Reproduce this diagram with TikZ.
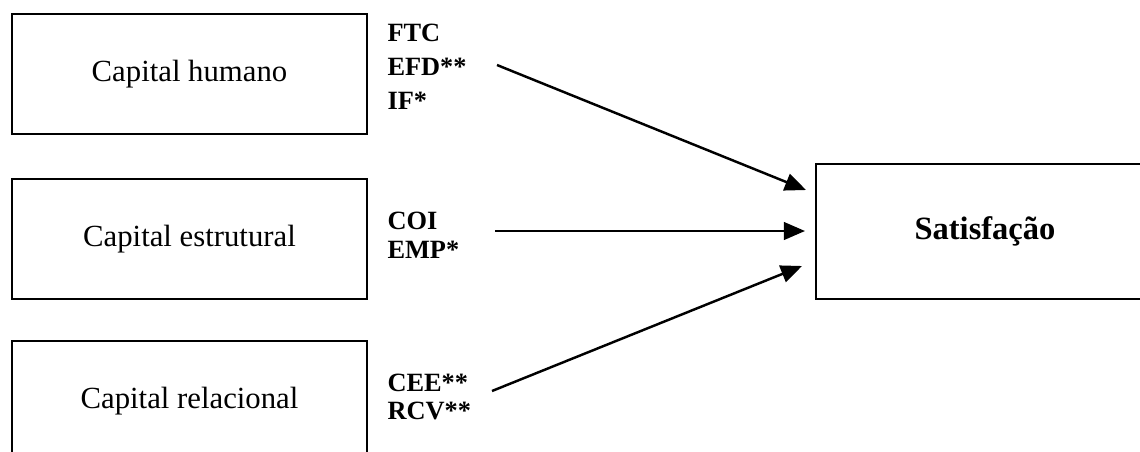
\documentclass[tikz,border=0pt]{standalone}
\usepackage{fontspec}
\setmainfont{Liberation Serif}
\usetikzlibrary{arrows.meta,positioning}

\begin{document}
\begin{tikzpicture}[x=0.02cm,y=-0.02cm,>={Triangle[length=12pt,width=10pt]},
                    semithick]
\tikzstyle{capbox}=[draw,line width=0.9pt,minimum width=7.1cm,minimum height=2.4cm,
                    inner sep=0pt,font=\fontsize{17.5}{20}\selectfont]
\tikzstyle{lab}=[anchor=west,align=left,inner sep=0pt,font=\bfseries]

        \clip (0,0) rectangle (1140,451);

        \node[capbox]                    (hum) at (189.5,74)  {Capital humano};
        \node[capbox]                    (est) at (189.5,239) {Capital estrutural};
        \node[capbox]                    (rel) at (189.5,401) {Capital relacional};
        \node[capbox, minimum width=6.76cm, minimum height=2.7cm,
              font=\fontsize{18.5}{22}\selectfont\bfseries]
                                         (sat) at (985,231.5) {Satisfação};

        \node[lab, font=\fontsize{15}{19.3}\selectfont\bfseries]  (lhum) at (387,67)  {FTC\\EFD**\\IF*};
        \node[lab, font=\fontsize{15}{16.4}\selectfont\bfseries]  (lest) at (387,235) {COI\\EMP*};
        \node[lab, font=\fontsize{15}{16.4}\selectfont\bfseries]  (lrel) at (387,397) {CEE**\\RCV**};

        \coordinate (thum) at (497,65);
        \coordinate (test) at (495,231);
        \coordinate (trel) at (492,391);
        \coordinate (shum) at (806,190);
        \coordinate (sest) at (805,231);
        \coordinate (srel) at (802,266);

        \path[->, line width=1.4pt]
        (thum)   edge node {}            (shum)
        (test)   edge node {}            (sest)
        (trel)   edge node {}            (srel)
        ; %end path

\end{tikzpicture}
\end{document}
